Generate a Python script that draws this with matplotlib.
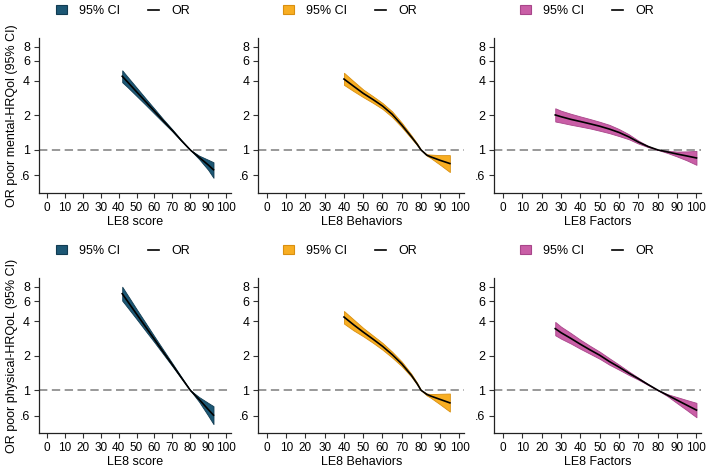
import matplotlib
matplotlib.use("Agg")
import matplotlib.pyplot as plt
from matplotlib.patches import Patch
from matplotlib.lines import Line2D
from matplotlib.ticker import FixedLocator, NullLocator

plt.rcParams["font.family"] = ["Liberation Sans", "DejaVu Sans"]

# colours of the three LE8 components
COLORS = ["#1d5875", "#f8ae22", "#c95ea6"]
EDGES = ["#123c52", "#d98f10", "#a8468a"]

XLABELS = ["LE8 score", "LE8 Behaviors", "LE8 Factors"]
YLABELS = ["OR poor mental-HRQol (95% CI)", "OR poor physical-HRQoL (95% CI)"]
YTICKS = [0.6, 1, 2, 4, 6, 8]
YTICKLABELS = [".6", "1", "2", "4", "6", "8"]
XTICKS = list(range(0, 101, 10))

# --- mental HRQoL ---
m_score_x = [42, 45, 50, 55, 60, 65, 70, 75, 80, 85, 90, 93]
m_score_or = [4.40, 3.92, 3.22, 2.65, 2.18, 1.79, 1.48, 1.21, 1.00, 0.86, 0.74, 0.67]
m_score_lo = [3.90, 3.53, 2.96, 2.48, 2.07, 1.73, 1.45, 1.20, 1.00, 0.83, 0.67, 0.57]
m_score_hi = [4.96, 4.35, 3.51, 2.83, 2.29, 1.85, 1.51, 1.22, 1.00, 0.89, 0.82, 0.78]

m_beh_x = [40, 45, 50, 55, 60, 65, 70, 75, 78, 80, 83, 85, 90, 95]
m_beh_or = [4.16, 3.60, 3.12, 2.76, 2.42, 2.05, 1.65, 1.30, 1.12, 1.00, 0.90, 0.87, 0.81, 0.76]
m_beh_lo = [3.70, 3.26, 2.89, 2.58, 2.28, 1.94, 1.58, 1.26, 1.10, 1.00, 0.89, 0.85, 0.74, 0.64]
m_beh_hi = [4.72, 3.98, 3.37, 2.95, 2.57, 2.17, 1.73, 1.34, 1.14, 1.00, 0.915, 0.91, 0.90, 0.90]

m_fac_x = [27, 30, 35, 40, 45, 50, 55, 60, 65, 70, 75, 80, 85, 90, 95, 100]
m_fac_or = [2.02, 1.95, 1.85, 1.77, 1.69, 1.61, 1.52, 1.42, 1.30, 1.17, 1.07, 1.00, 0.96, 0.92, 0.885, 0.85]
m_fac_lo = [1.77, 1.73, 1.66, 1.60, 1.54, 1.47, 1.40, 1.32, 1.24, 1.135, 1.057, 1.00, 0.94, 0.875, 0.81, 0.74]
m_fac_hi = [2.31, 2.20, 2.07, 1.96, 1.86, 1.76, 1.655, 1.52, 1.37, 1.205, 1.083, 1.00, 0.98, 0.967, 0.97, 0.98]

# --- physical HRQoL ---
p_score_x = [42, 45, 50, 55, 60, 65, 70, 75, 80, 85, 90, 93]
p_score_or = [6.97, 5.98, 4.63, 3.59, 2.78, 2.15, 1.67, 1.29, 1.00, 0.83, 0.68, 0.605]
p_score_lo = [6.06, 5.28, 4.19, 3.31, 2.62, 2.06, 1.62, 1.27, 1.00, 0.79, 0.60, 0.505]
p_score_hi = [8.02, 6.78, 5.12, 3.89, 2.95, 2.25, 1.72, 1.31, 1.00, 0.87, 0.775, 0.725]

p_beh_x = [40, 45, 50, 55, 60, 65, 70, 75, 78, 80, 83, 85, 90, 95]
p_beh_or = [4.36, 3.73, 3.22, 2.80, 2.42, 2.05, 1.70, 1.35, 1.14, 1.00, 0.92, 0.89, 0.83, 0.775]
p_beh_lo = [3.82, 3.33, 2.96, 2.60, 2.26, 1.93, 1.62, 1.31, 1.12, 1.00, 0.90, 0.86, 0.75, 0.65]
p_beh_hi = [4.92, 4.15, 3.50, 3.01, 2.59, 2.17, 1.78, 1.39, 1.16, 1.00, 0.935, 0.925, 0.93, 0.935]

p_fac_x = [27, 30, 35, 40, 45, 50, 55, 60, 65, 70, 75, 80, 85, 90, 95, 100]
p_fac_or = [3.45, 3.18, 2.84, 2.52, 2.25, 2.02, 1.78, 1.59, 1.41, 1.26, 1.12, 1.00, 0.905, 0.818, 0.74, 0.67]
p_fac_lo = [3.02, 2.82, 2.56, 2.30, 2.08, 1.88, 1.67, 1.51, 1.36, 1.235, 1.11, 1.00, 0.887, 0.77, 0.67, 0.58]
p_fac_hi = [3.95, 3.59, 3.16, 2.76, 2.44, 2.17, 1.90, 1.67, 1.46, 1.285, 1.13, 1.00, 0.923, 0.87, 0.82, 0.775]

ROWS = [
    [(m_score_x, m_score_or, m_score_lo, m_score_hi),
     (m_beh_x, m_beh_or, m_beh_lo, m_beh_hi),
     (m_fac_x, m_fac_or, m_fac_lo, m_fac_hi)],
    [(p_score_x, p_score_or, p_score_lo, p_score_hi),
     (p_beh_x, p_beh_or, p_beh_lo, p_beh_hi),
     (p_fac_x, p_fac_or, p_fac_lo, p_fac_hi)],
]

W, H = 708, 467
fig = plt.figure(figsize=(W / 100, H / 100), dpi=100)

# axes boxes in pixels: (left, width); rows: (top, bottom)
col_px = [(39, 191.5), (258.3, 206), (494.3, 207)]
row_px = [(38, 193), (278.3, 433.3)]
legend_cx = [123, 350, 587]
legend_cy = [11, 251]

for r, row in enumerate(ROWS):
    top, bot = row_px[r]
    for c, (x, orv, lo, hi) in enumerate(row):
        left, width = col_px[c]
        ax = fig.add_axes([left / W, 1 - bot / H, width / W, (bot - top) / H])
        ax.set_yscale("log")
        ax.set_xlim(-4.5, 102.5)
        ax.set_ylim(0.42, 9.5)

        ax.fill_between(x, lo, hi, facecolor=COLORS[c], edgecolor=EDGES[c],
                        linewidth=0.6, zorder=2)
        ax.plot(x, orv, color="black", linewidth=1.2, zorder=3)
        ax.axhline(1, color="#999999", linewidth=1.4, dashes=(4.3, 2.3), zorder=1)

        ax.yaxis.set_major_locator(FixedLocator(YTICKS))
        ax.yaxis.set_minor_locator(NullLocator())
        ax.set_yticklabels(YTICKLABELS)
        ax.set_xticks(XTICKS)
        ax.tick_params(axis="both", labelsize=8.5, length=3.5, width=0.8,
                       color="#333333", direction="out")
        ax.tick_params(axis="y", labelsize=9, pad=3)
        ax.tick_params(axis="x", pad=3)
        for s in ("top", "right"):
            ax.spines[s].set_visible(False)
        for s in ("left", "bottom"):
            ax.spines[s].set_linewidth(0.9)
            ax.spines[s].set_color("#222222")

        ax.set_xlabel(XLABELS[c], fontsize=9, labelpad=1.5)
        if c == 0:
            ax.set_ylabel(YLABELS[r], fontsize=9, va="center")
            ax.yaxis.set_label_coords(-0.14, 0.5)

        handles = [Patch(facecolor=COLORS[c], edgecolor=EDGES[c], linewidth=0.8),
                   Line2D([0], [0], color="black", linewidth=1.2)]
        fig.legend(handles, ["95% CI", "OR"], loc="center",
                   bbox_to_anchor=(legend_cx[c] / W, 1 - legend_cy[r] / H),
                   ncol=2, frameon=False, fontsize=9, handlelength=0.9,
                   handleheight=0.65, handletextpad=1.0, columnspacing=2.2)

fig.savefig("out.png", dpi=100)
